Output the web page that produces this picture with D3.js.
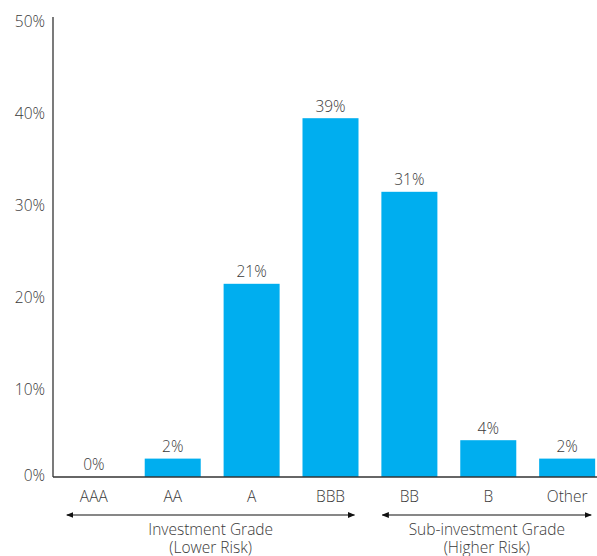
<!DOCTYPE html>
<html><head><meta charset="utf-8">
<script src="https://cdn.jsdelivr.net/npm/d3@7"></script>
<style>
html,body{margin:0;padding:0;background:#fff;}
svg text{font-family:"Open Sans",Lato,sans-serif;font-weight:300;fill:#3a3a3a;}
</style></head>
<body><svg id="c" width="597" height="556"></svg>
<script>
const categories = ["AAA","AA","A","BBB","BB","B","Other"];
const values = [0, 2, 21, 39, 31, 4, 2];
const valueLabels = ["0%","2%","21%","39%","31%","4%","2%"];
const yTicks = [0,10,20,30,40,50];
const groups = [
  {label:["Investment Grade","(Lower Risk)"], from:"AAA", to:"BBB"},
  {label:["Sub-investment Grade","(Higher Risk)"], from:"BB", to:"Other"}
];

const svg = d3.select("#c");
const x0 = 53, x1 = 607, yBase = 477, yTop = 17;
const x = d3.scaleBand().domain(categories).range([x0+1, x1]).paddingInner(0.29).paddingOuter(0.15);
const y = d3.scaleLinear().domain([0,50]).range([yBase, yTop]);
const fs = 15.5;

svg.selectAll("rect.bar").data(values).enter().append("rect")
  .attr("x",(d,i)=>x(categories[i])).attr("width",x.bandwidth())
  .attr("y",d=>y(d)).attr("height",d=>yBase-y(d)).attr("fill","#00AEEF");

svg.selectAll("text.val").data(values).enter().append("text")
  .attr("x",(d,i)=>x(categories[i])+x.bandwidth()/2)
  .attr("y",d=>y(d)-12).attr("dy","0.35em").attr("text-anchor","middle").attr("font-size",fs)
  .text((d,i)=>valueLabels[i]);

svg.append("line").attr("x1",x0).attr("x2",x0).attr("y1",yTop).attr("y2",yBase).attr("stroke","#333").attr("stroke-width",1.3);
svg.selectAll("text.yt").data(yTicks).enter().append("text")
  .attr("x",45).attr("y",d=>Math.min(y(d)+5, yBase-1)).attr("dy","0.35em")
  .attr("text-anchor","end").attr("font-size",fs).text(d=>d+"%");

svg.append("line").attr("x1",x0).attr("x2",597).attr("y1",yBase).attr("y2",yBase).attr("stroke","#333").attr("stroke-width",1.5);
svg.selectAll("text.xt").data(categories).enter().append("text")
  .attr("x",d=>x(d)+x.bandwidth()/2).attr("y",yBase+20).attr("dy","0.35em")
  .attr("text-anchor","middle").attr("font-size",fs).text(d=>d);

const defs = svg.append("defs");
defs.append("marker").attr("id","ah").attr("viewBox","0 0 10 10").attr("refX",9).attr("refY",5)
  .attr("markerWidth",6).attr("markerHeight",6).attr("orient","auto-start-reverse")
  .append("path").attr("d","M0,1 L10,5 L0,9 Z").attr("fill","#111");
const ay = 515;
groups.forEach(g=>{
  const a = x(g.from) + 1, b = x(g.to) + x.bandwidth() - 4;
  svg.append("line").attr("x1",a).attr("x2",b).attr("y1",ay).attr("y2",ay)
    .attr("stroke","#111").attr("stroke-width",1.2)
    .attr("marker-start","url(#ah)").attr("marker-end","url(#ah)");
  const cx = (a+b)/2;
  g.label.forEach((t,k)=>{
    svg.append("text").attr("x",cx).attr("y",530+k*18).attr("dy","0.35em")
      .attr("text-anchor","middle").attr("font-size",fs).text(t);
  });
});
</script></body></html>
